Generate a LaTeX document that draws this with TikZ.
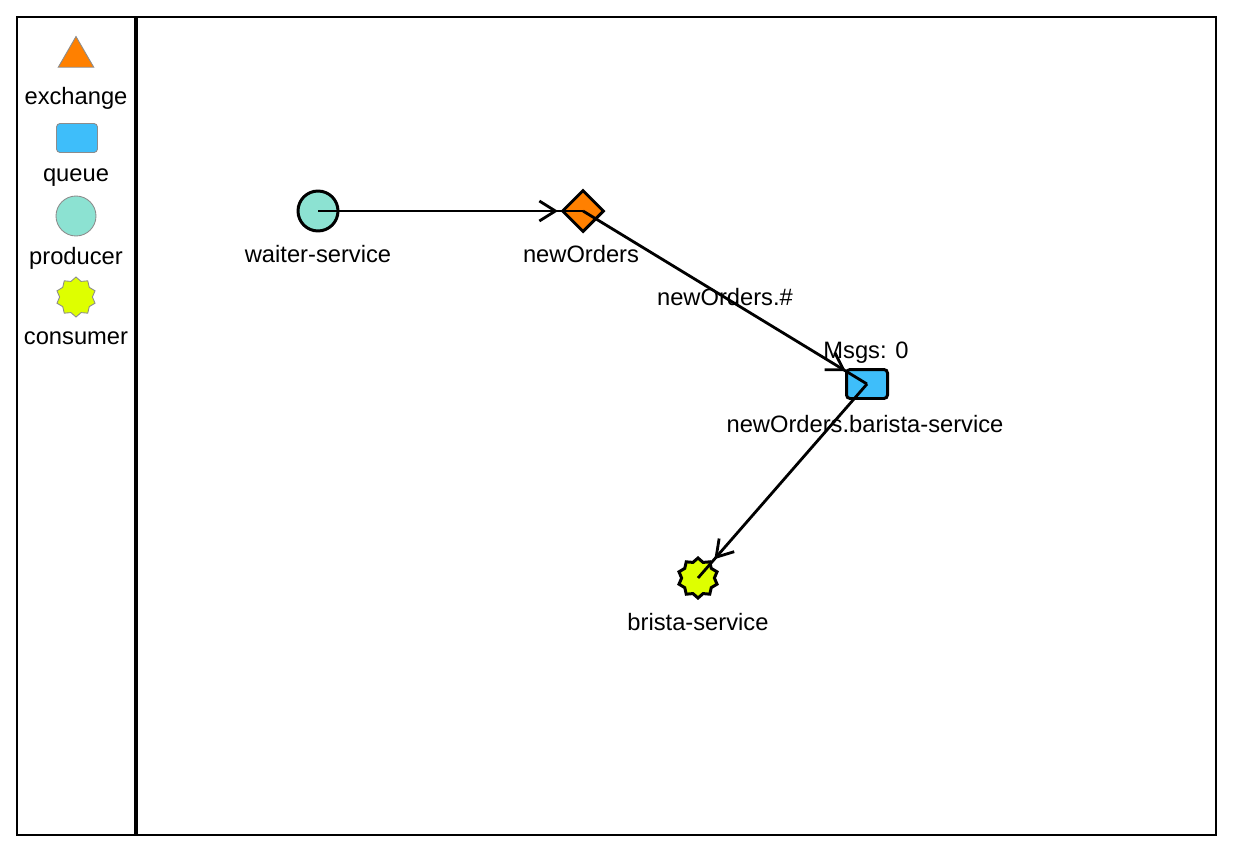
\documentclass[tikz,border=0pt]{standalone}
\usepackage{fontspec}
\setmainfont{Liberation Sans}
\usetikzlibrary{shapes.geometric,arrows.meta,decorations.markings}

\definecolor{exchangeorange}{RGB}{255,128,0}
\definecolor{queueblue}{RGB}{62,190,250}
\definecolor{producergreen}{RGB}{140,226,210}
\definecolor{consumeryellow}{RGB}{222,255,0}

\tikzset{
  txt/.style={font=\fontsize{13.5}{16}\selectfont, inner sep=0pt},
  legendline/.style={draw=black!45, line width=0.5pt},
  nodeline/.style={draw=black, line width=1.7pt},
  exchange/.style={diamond, fill=exchangeorange, minimum size=0.84cm, inner sep=0pt},
  queue/.style={rectangle, rounded corners=2pt, fill=queueblue, minimum width=0.82cm, minimum height=0.58cm, inner sep=0pt},
  producer/.style={circle, fill=producergreen, minimum size=0.8cm, inner sep=0pt},
  consumer/.style={star, star points=10, star point ratio=1.22, fill=consumeryellow, minimum size=0.8cm, inner sep=0pt},
  flow/.style={line width=1.6pt, postaction={decorate},
    decoration={markings, mark=at position -0.5cm with {\arrow{Straight Barb[length=0.32cm,width=0.4cm]}}}}
}

\begin{document}
\begin{tikzpicture}[x=0.02cm,y=-0.02cm]
  \useasboundingbox (0,0) rectangle (1253,865);
  % frame and legend column
  \draw[line width=1.3pt] (17,17) rectangle (1216,835);
  \draw[line width=2pt] (136,17) -- (136,835);

  % legend
  \node[regular polygon, regular polygon sides=3, fill=exchangeorange, legendline, minimum size=0.82cm, inner sep=0pt] (legexchange) at (76,57) {};
  \node[txt] (legexchangetxt) at (76,98) {exchange};
  \node[queue, legendline] (legqueue) at (77,138) {};
  \node[txt] (legqueuetxt) at (76,178) {queue};
  \node[producer, legendline] (legproducer) at (76,216) {};
  \node[txt] (legproducertxt) at (76,258) {producer};
  \node[consumer, legendline] (legconsumer) at (76,297) {};
  \node[txt] (legconsumertxt) at (76,338) {consumer};

  % graph
  \node[producer, nodeline] (waiter) at (318,211) {};
  \node[txt] (waitertxt) at (318,254) {waiter-service};
  \node[exchange, nodeline] (newOrders) at (583,211) {};
  \node[txt] (newOrderstxt) at (581,254) {newOrders};
  \node[queue, nodeline] (baristaQueue) at (867,384) {};
  \node[txt] (msgstxt) at (866,353) {Msgs: 0};
  \node[txt] (baristaQueuetxt) at (865,424) {newOrders.barista-service};
  \node[consumer, nodeline] (brista) at (698,578) {};
  \node[txt] (bristatxt) at (698,622) {brista-service};

  \draw[flow] (waiter.center) -- (newOrders.center);
  \draw[flow] (newOrders.center) -- node[txt] (bindingtxt) {newOrders.\#} (baristaQueue.center);
  \draw[flow] (baristaQueue.center) -- (brista.center);
\end{tikzpicture}
\end{document}
